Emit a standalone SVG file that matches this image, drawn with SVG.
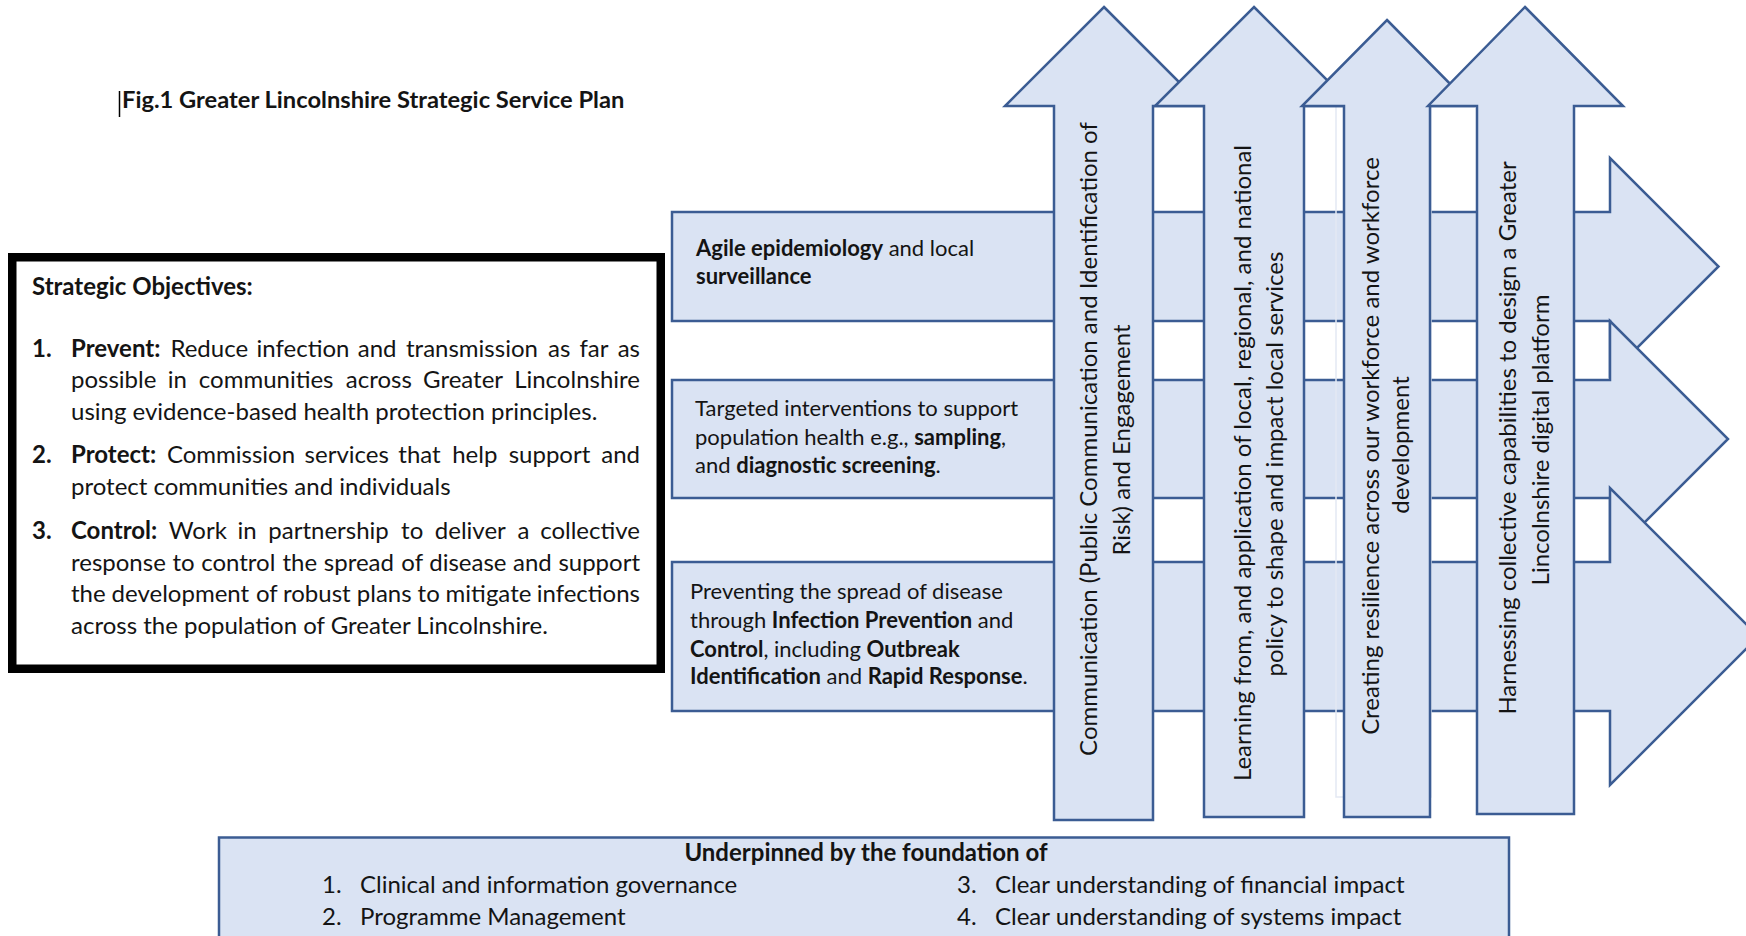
<svg xmlns="http://www.w3.org/2000/svg" width="1746" height="936" viewBox="0 0 1746 936">
  <style>
    text { font-family: Lato, "Liberation Sans", sans-serif; fill: #141414; }
    .b { font-weight: bold; }
    .title { font-size: 23.7px; font-weight: bold; }
    .obj { font-size: 24px; }
    .band { font-size: 22px; }
    .vert { font-size: 24px; text-anchor: middle; }
    .foot { font-size: 24px; }
    .shape { fill: #dae3f3; stroke: #3b5c93; stroke-width: 2.5; stroke-linejoin: miter; }
  </style>

  <rect width="1746" height="936" fill="#ffffff"/>

  <!-- heading with text cursor -->
  <g id="heading">
    <line x1="119.5" y1="91" x2="119.5" y2="117" stroke="#000" stroke-width="1.5"/>
    <text class="title" x="122" y="108">Fig.1 Greater Lincolnshire Strategic Service Plan</text>
  </g>

  <!-- strategic objectives panel -->
  <g id="objectives">
    <rect x="12.25" y="257.25" width="648.5" height="411.5" fill="#ffffff" stroke="#000000" stroke-width="8.5"/>
    <text class="obj b" x="32" y="295">Strategic Objectives:</text>

    <text class="obj" y="357"><tspan class="b" x="32">1.</tspan><tspan class="b" x="71">Prevent:</tspan><tspan x="170.4">Reduce</tspan><tspan x="256.6">infection</tspan><tspan x="357.8">and</tspan><tspan x="406">transmission</tspan><tspan x="548.1">as</tspan><tspan x="579.5">far</tspan></text>
    <text class="obj" x="640" y="357" text-anchor="end">as</text>
    <text class="obj" y="388"><tspan x="71">possible</tspan><tspan x="167.7">in</tspan><tspan x="198.8">communities</tspan><tspan x="345.8">across</tspan><tspan x="423.1">Greater</tspan></text>
    <text class="obj" x="640" y="388" text-anchor="end">Lincolnshire</text>
    <text class="obj" x="71" y="420">using evidence-based health protection principles.</text>

    <text class="obj" y="463"><tspan class="b" x="32">2.</tspan><tspan class="b" x="71">Protect:</tspan><tspan x="166.9">Commission</tspan><tspan x="304.6">services</tspan><tspan x="398.3">that</tspan><tspan x="452.2">help</tspan><tspan x="508.7">support</tspan></text>
    <text class="obj" x="640" y="463" text-anchor="end">and</text>
    <text class="obj" x="71" y="495">protect communities and individuals</text>

    <text class="obj" y="539"><tspan class="b" x="32">3.</tspan><tspan class="b" x="71">Control:</tspan><tspan x="168.8">Work</tspan><tspan x="237.4">in</tspan><tspan x="268.3">partnership</tspan><tspan x="401.1">to</tspan><tspan x="434.8">deliver</tspan><tspan x="517.6">a</tspan></text>
    <text class="obj" x="640" y="539" text-anchor="end">collective</text>
    <text class="obj" y="571"><tspan x="71">response</tspan><tspan x="172.4">to</tspan><tspan x="201.2">control</tspan><tspan x="282.4">the</tspan><tspan x="323.8">spread</tspan><tspan x="401.3">of</tspan><tspan x="429.2">disease</tspan><tspan x="513">and</tspan></text>
    <text class="obj" x="640" y="571" text-anchor="end">support</text>
    <text class="obj" y="602"><tspan x="71">the</tspan><tspan x="111.6">development</tspan><tspan x="255.9">of</tspan><tspan x="283">robust</tspan><tspan x="356.8">plans</tspan><tspan x="417.6">to</tspan><tspan x="445.6">mitigate</tspan></text>
    <text class="obj" x="640" y="602" text-anchor="end">infections</text>
    <text class="obj" x="71" y="634">across the population of Greater Lincolnshire.</text>
  </g>

  <!-- horizontal service arrows -->
  <g id="band-surveillance">
    <polygon class="shape" points="672,212 1610,212 1610,158 1718.5,266.5 1610,375 1610,321 672,321"/>
    <text class="band" x="696" y="256"><tspan class="b">Agile epidemiology</tspan> and local</text>
    <text class="band b" x="696" y="284">surveillance</text>
  </g>
  <g id="band-interventions">
    <polygon class="shape" points="672,380 1610,380 1610,321 1728,439 1610,557 1610,498 672,498"/>
    <text class="band" x="695" y="416">Targeted interventions to support</text>
    <text class="band" x="695" y="445">population health e.g., <tspan class="b">sampling</tspan>,</text>
    <text class="band" x="695" y="473">and <tspan class="b">diagnostic screening</tspan>.</text>
  </g>
  <g id="band-prevention">
    <polygon class="shape" points="672,562 1610,562 1610,488 1758.5,636.5 1610,785 1610,711 672,711"/>
    <text class="band" x="690" y="599">Preventing the spread of disease</text>
    <text class="band" x="690" y="628">through <tspan class="b">Infection Prevention</tspan> and</text>
    <text class="band" x="690" y="657"><tspan class="b">Control</tspan>, including <tspan class="b">Outbreak</tspan></text>
    <text class="band" x="690" y="684"><tspan class="b">Identification</tspan> and <tspan class="b">Rapid Response</tspan>.</text>
  </g>

  <!-- light text-frame outline between the middle columns -->
  <rect x="1336" y="106" width="95" height="691" fill="none" stroke="#e4e9f3" stroke-width="1.5"/>

  <!-- vertical enabler arrows -->
  <g id="arrow-communication">
    <polygon class="shape" points="1104,7 1203,106 1153,106 1153,820 1054,820 1054,106 1005,106"/>
    <text class="vert" transform="translate(1097,439) rotate(-90)">Communication (Public Communication and Identification of</text>
    <text class="vert" transform="translate(1130,440) rotate(-90)">Risk) and Engagement</text>
  </g>
  <g id="arrow-learning">
    <polygon class="shape" points="1254,7 1353,106 1304,106 1304,817 1204,817 1204,106 1155,106"/>
    <text class="vert" transform="translate(1251,463) rotate(-90)">Learning from, and application of local, regional, and national</text>
    <text class="vert" transform="translate(1283,464) rotate(-90)">policy to shape and impact local services</text>
  </g>
  <g id="arrow-resilience">
    <polygon class="shape" points="1387,20 1472,106 1430,106 1430,817 1344,817 1344,106 1302,106"/>
    <text class="vert" transform="translate(1379,446) rotate(-90)">Creating resilience across our workforce and workforce</text>
    <text class="vert" transform="translate(1409,445) rotate(-90)">development</text>
  </g>
  <g id="arrow-digital">
    <polygon class="shape" points="1525,7 1623,106 1574,106 1574,814 1477,814 1477,106 1428,106"/>
    <text class="vert" transform="translate(1516,438) rotate(-90)">Harnessing collective capabilities to design a Greater</text>
    <text class="vert" transform="translate(1549,440) rotate(-90)">Lincolnshire digital platform</text>
  </g>

  <!-- foundation panel -->
  <g id="foundation">
    <rect class="shape" x="219" y="837.5" width="1290" height="130" stroke-width="3"/>
    <text class="foot b" x="866" y="861" text-anchor="middle">Underpinned by the foundation of</text>
    <text class="foot" x="322" y="893">1.</text>
    <text class="foot" x="360" y="893">Clinical and information governance</text>
    <text class="foot" x="322" y="925">2.</text>
    <text class="foot" x="360" y="925">Programme Management</text>
    <text class="foot" x="957" y="893">3.</text>
    <text class="foot" x="995" y="893">Clear understanding of financial impact</text>
    <text class="foot" x="957" y="925">4.</text>
    <text class="foot" x="995" y="925">Clear understanding of systems impact</text>
  </g>
</svg>
